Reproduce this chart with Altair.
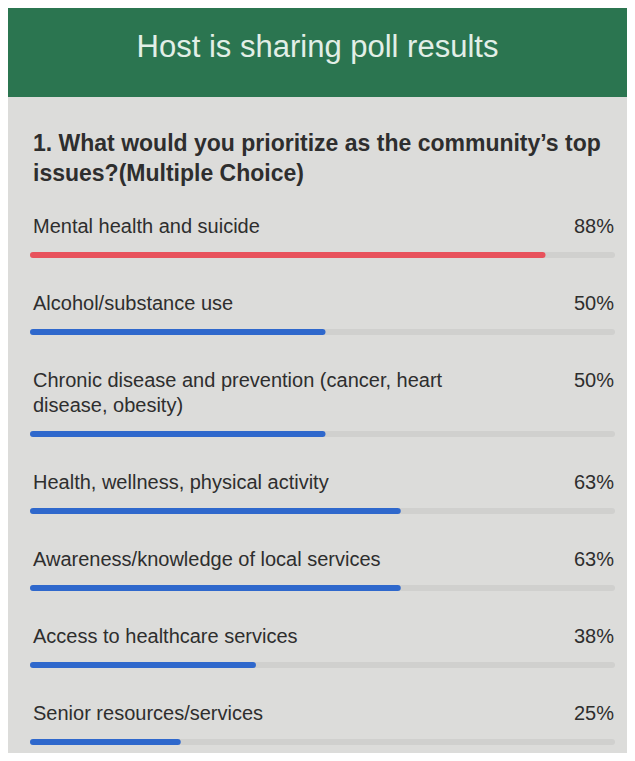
import altair as alt
import pandas as pd
import textwrap

# ---- data ----
header_text = "Host is sharing poll results"
question_lines = ["1. What would you prioritize as the community\u2019s top",
                  "issues?(Multiple Choice)"]
options = [
    "Mental health and suicide",
    "Alcohol/substance use",
    "Chronic disease and prevention (cancer, heart disease, obesity)",
    "Health, wellness, physical activity",
    "Awareness/knowledge of local services",
    "Access to healthcare services",
    "Senior resources/services",
]
percents = [88, 50, 50, 63, 63, 38, 25]

# ---- style ----
FONT = "Liberation Sans"
W = 619
BG = "#dcdcda"
GREEN = "#2b7550"
RED = "#e8525c"
BLUE = "#2f68cc"
TRACK = "#d0d0ce"
TEXT = "#2e2e2e"
XSCALE = alt.Scale(domain=[0, 100], range=[25, 604])

header = alt.Chart(pd.DataFrame({"t": [header_text]})).mark_text(
    font=FONT, fontSize=31, color="#e2efe7", align="center", baseline="middle"
).encode(
    text="t:N", x=alt.value(W / 2), y=alt.value(40)
).properties(width=W, height=89, view=alt.ViewBackground(fill=GREEN, stroke=None))

question = alt.Chart(pd.DataFrame({"t": ["\n".join(question_lines)]})).mark_text(
    font=FONT, fontSize=23, fontWeight="bold", color=TEXT, align="left",
    baseline="top", lineBreak="\n", lineHeight=30
).encode(
    text="t:N", x=alt.value(25), y=alt.value(36)
).properties(width=W, height=104)

top = max(percents)
rows = []
for i, (label, pct) in enumerate(zip(options, percents)):
    lines = textwrap.wrap(label, 46)
    n = len(lines)
    bar_y = 54 + 25 * (n - 1)
    h = 77 + 25 * (n - 1) if i < len(options) - 1 else bar_y + 11
    df = pd.DataFrame({"label": ["\n".join(lines)], "pct": [pct],
                       "pct_label": [f"{pct}%"], "zero": [0], "full": [100]})
    base = alt.Chart(df)
    lab = base.mark_text(font=FONT, fontSize=20, color=TEXT, align="left",
                         baseline="top", lineBreak="\n", lineHeight=25).encode(
        text="label:N", x=alt.value(25), y=alt.value(16))
    pl = base.mark_text(font=FONT, fontSize=20, color=TEXT, align="right",
                        baseline="top").encode(
        text="pct_label:N", x=alt.value(606), y=alt.value(16))
    track = base.mark_rule(strokeWidth=6, strokeCap="round", color=TRACK).encode(
        x=alt.X("zero:Q", scale=XSCALE, axis=None), x2="full:Q", y=alt.value(bar_y))
    bar = base.mark_rule(strokeWidth=6, strokeCap="round",
                         color=RED if pct == top else BLUE).encode(
        x=alt.X("zero:Q", scale=XSCALE, axis=None), x2="pct:Q", y=alt.value(bar_y))
    rows.append(alt.layer(track, bar, lab, pl).properties(width=W, height=h))

chart = alt.vconcat(header, question, *rows, spacing=0).properties(
    padding=0, background=BG
).configure_view(stroke=None)

chart.save("out.html", embed_options={"renderer": "svg", "actions": False})
